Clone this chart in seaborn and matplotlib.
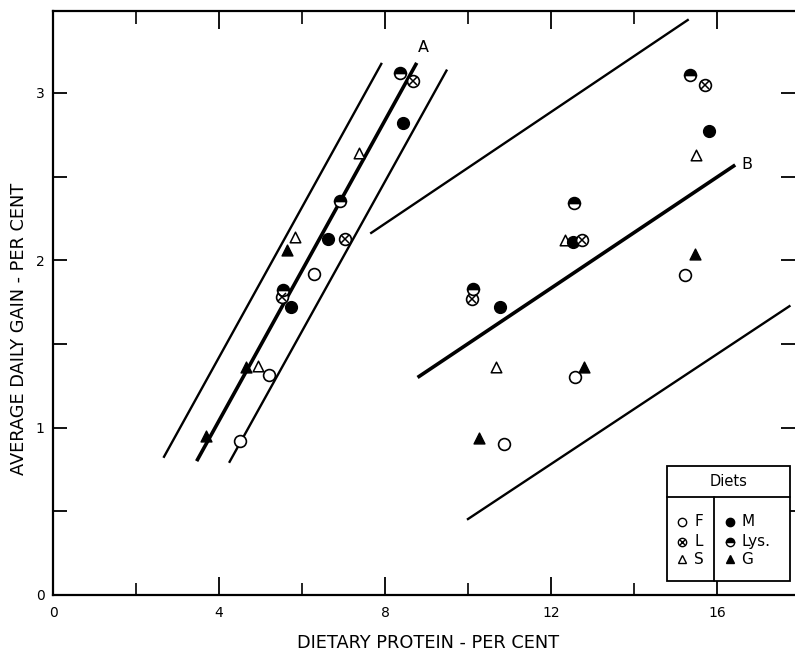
import matplotlib
matplotlib.use("Agg")
import matplotlib.pyplot as plt
import seaborn as sns
import numpy as np
from matplotlib.patches import Rectangle
from matplotlib.lines import Line2D

sns.set_style("ticks")
plt.rcParams["font.family"] = ["DejaVu Sans"]
plt.rcParams["text.color"] = "black"
plt.rcParams["axes.labelcolor"] = "black"
plt.rcParams["xtick.color"] = "black"
plt.rcParams["ytick.color"] = "black"
plt.rcParams["axes.edgecolor"] = "black"

# ---- data ----
diet_F_x = [4.51, 5.21, 6.29, 10.87, 12.58, 15.23]
diet_F_y = [0.92, 1.315, 1.92, 0.905, 1.305, 1.91]
diet_L_x = [5.51, 7.03, 8.67, 10.10, 12.74, 15.71]
diet_L_y = [1.78, 2.13, 3.07, 1.77, 2.12, 3.05]
diet_S_x = [4.93, 5.83, 7.36, 10.67, 12.32, 15.49]
diet_S_y = [1.37, 2.14, 2.64, 1.36, 2.12, 2.63]
diet_M_x = [5.73, 6.62, 8.44, 10.77, 12.52, 15.81]
diet_M_y = [1.72, 2.13, 2.82, 1.72, 2.11, 2.77]
diet_Lys_x = [5.53, 6.90, 8.35, 10.11, 12.54, 15.33]
diet_Lys_y = [1.82, 2.355, 3.12, 1.83, 2.345, 3.11]
diet_G_x = [3.69, 4.64, 5.63, 10.27, 12.80, 15.47]
diet_G_y = [0.95, 1.365, 2.06, 0.94, 1.36, 2.04]

# guide lines (x pair, y pair)
lineA_upper_x, lineA_upper_y = [2.66, 7.92], [0.82, 3.18]
lineA_mid_x, lineA_mid_y = [3.46, 8.76], [0.80, 3.18]
lineA_lower_x, lineA_lower_y = [4.24, 9.49], [0.79, 3.14]
lineB_upper_x, lineB_upper_y = [7.64, 15.31], [2.16, 3.44]
lineB_mid_x, lineB_mid_y = [8.78, 16.43], [1.30, 2.57]
lineB_lower_x, lineB_lower_y = [9.97, 17.76], [0.45, 1.73]

x_major = [0, 4, 8, 12, 16]
x_minor = [2, 6, 10, 14]
y_major = [0, 1, 2, 3]
y_minor = [0.5, 1.5, 2.5]

fig = plt.figure(figsize=(7.95, 6.51), dpi=100)
ax = fig.add_axes([53 / 795, 56 / 651, 742 / 795, 584 / 651])
ax.set_xlim(0, 17.87)
ax.set_ylim(0, 3.49)

# guide lines
thin = 1.7
thick = 2.6
for lx, ly, lw in [(lineA_upper_x, lineA_upper_y, thin),
                   (lineA_mid_x, lineA_mid_y, thick),
                   (lineA_lower_x, lineA_lower_y, thin),
                   (lineB_upper_x, lineB_upper_y, thin),
                   (lineB_mid_x, lineB_mid_y, thick),
                   (lineB_lower_x, lineB_lower_y, thin)]:
    sns.lineplot(x=lx, y=ly, ax=ax, color="black", linewidth=lw,
                 solid_capstyle="butt", zorder=2)

ms = 8.5
s = ms ** 2
# F: open circle
sns.scatterplot(x=diet_F_x, y=diet_F_y, ax=ax, marker="o", s=s,
                facecolor="white", edgecolor="black", linewidth=1.2, zorder=4)
# S: open triangle
sns.scatterplot(x=diet_S_x, y=diet_S_y, ax=ax, marker="^", s=s * 0.8,
                facecolor="white", edgecolor="black", linewidth=1.1, zorder=4)
# M: filled circle
sns.scatterplot(x=diet_M_x, y=diet_M_y, ax=ax, marker="o", s=s,
                facecolor="black", edgecolor="black", linewidth=1.0, zorder=4)
# G: filled triangle
sns.scatterplot(x=diet_G_x, y=diet_G_y, ax=ax, marker="^", s=s * 0.85,
                facecolor="black", edgecolor="black", linewidth=1.0, zorder=4)
# L: crossed circle
ax.plot(diet_L_x, diet_L_y, linestyle="none", marker="o", markersize=ms,
        markerfacecolor="white", markeredgecolor="black", markeredgewidth=1.2,
        zorder=4)
ax.plot(diet_L_x, diet_L_y, linestyle="none", marker="x", markersize=ms * 0.62,
        markeredgecolor="black", markeredgewidth=1.1, zorder=5)
# Lys: half-filled circle (top black)
ax.plot(diet_Lys_x, diet_Lys_y, linestyle="none", marker="o", markersize=ms,
        fillstyle="top", markerfacecolor="black", markerfacecoloralt="white",
        markeredgecolor="black", markeredgewidth=1.2, zorder=4)

ax.text(8.92, 3.27, "A", fontsize=11.5, ha="center", va="center")
ax.text(16.72, 2.57, "B", fontsize=11.5, ha="center", va="center")

# axes styling
ax.set_xticks(x_major)
ax.set_xticks(x_minor, minor=True)
ax.set_yticks(y_major)
ax.set_yticks(y_minor, minor=True)
ax.set_xticklabels([str(v) for v in x_major])
ax.set_yticklabels([str(v) for v in y_major])
ax.tick_params(axis="x", which="major", direction="in", length=13, width=1.3,
               top=True, bottom=True, labelsize=10, pad=8)
ax.tick_params(axis="x", which="minor", direction="in", length=9, width=1.2,
               top=True, bottom=True)
ax.tick_params(axis="y", which="both", direction="in", length=10, width=1.3,
               left=True, right=True, labelsize=10, pad=6)
for side in ["left", "bottom", "top"]:
    ax.spines[side].set_linewidth(1.6)
ax.spines["right"].set_visible(False)

ax.set_xlabel("DIETARY PROTEIN - PER CENT", fontsize=12.8)
ax.set_ylabel("AVERAGE DAILY GAIN - PER CENT", fontsize=12.8)
ax.yaxis.set_label_coords(-0.034, 0.455)
ax.xaxis.set_label_coords(0.505, -0.066)

# legend box (drawn manually in axes fraction)
tr = ax.transAxes
L0, R0, T0, B0 = 0.827, 0.993, 0.221, 0.024
HD, VD = 0.168, 0.891
ax.add_patch(Rectangle((L0, B0), R0 - L0, T0 - B0, transform=tr,
                       facecolor="white", edgecolor="black", linewidth=1.3,
                       zorder=6))
ax.add_line(Line2D([L0, R0], [HD, HD], transform=tr, color="black",
                   linewidth=1.3, zorder=7))
ax.add_line(Line2D([VD, VD], [B0, HD], transform=tr, color="black",
                   linewidth=1.3, zorder=7))
ax.text((L0 + R0) / 2, 0.195, "Diets", transform=tr, fontsize=10.5,
        ha="center", va="center", zorder=8)

legend_rows = [0.1255, 0.0913, 0.0611]
lm = 6.0
mx1, tx1 = 0.848, 0.864
mx2, tx2 = 0.913, 0.928
kw = dict(transform=tr, linestyle="none", zorder=8, clip_on=False)
# left column: F, L, S
ax.plot([mx1], [legend_rows[0]], marker="o", markersize=lm,
        markerfacecolor="white", markeredgecolor="black", markeredgewidth=1.0, **kw)
ax.plot([mx1], [legend_rows[1]], marker="o", markersize=lm,
        markerfacecolor="white", markeredgecolor="black", markeredgewidth=1.0, **kw)
ax.plot([mx1], [legend_rows[1]], marker="x", markersize=lm * 0.62,
        markeredgecolor="black", markeredgewidth=1.0, **kw)
ax.plot([mx1], [legend_rows[2]], marker="^", markersize=lm * 0.95,
        markerfacecolor="white", markeredgecolor="black", markeredgewidth=1.0, **kw)
# right column: M, Lys, G
ax.plot([mx2], [legend_rows[0]], marker="o", markersize=lm,
        markerfacecolor="black", markeredgecolor="black", **kw)
ax.plot([mx2], [legend_rows[1]], marker="o", markersize=lm, fillstyle="top",
        markerfacecolor="black", markerfacecoloralt="white",
        markeredgecolor="black", markeredgewidth=1.0, **kw)
ax.plot([mx2], [legend_rows[2]], marker="^", markersize=lm * 0.95,
        markerfacecolor="black", markeredgecolor="black", **kw)
for lab, yy in zip(["F", "L", "S"], legend_rows):
    ax.text(tx1, yy, lab, transform=tr, fontsize=11, ha="left", va="center", zorder=8)
for lab, yy in zip(["M", "Lys.", "G"], legend_rows):
    ax.text(tx2, yy, lab, transform=tr, fontsize=11, ha="left", va="center", zorder=8)

fig.savefig("out.png", dpi=100)
